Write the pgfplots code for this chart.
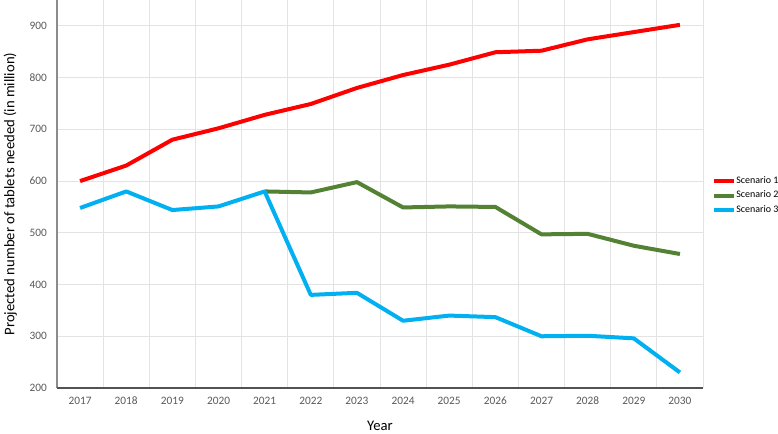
\documentclass[border=0pt]{standalone}
\usepackage{pgfplots}
\pgfplotsset{compat=1.18}
\usepackage{fontspec}
\setmainfont{Carlito}
\definecolor{sred}{HTML}{FF0000}
\definecolor{sgreen}{HTML}{548235}
\definecolor{sblue}{HTML}{00B0F0}
\definecolor{gridc}{HTML}{E3E3E3}
\definecolor{tickc}{HTML}{595959}
\begin{document}
\begin{tikzpicture}
\useasboundingbox (0pt,0pt) rectangle (583.5pt,324.75pt);
\begin{axis}[
  at={(42.75pt,33.75pt)}, anchor=south west,
  scale only axis, width=484.5pt, height=291pt,
  xmin=2016.5, xmax=2030.5, ymin=200, ymax=950,
  xtick={2017.5,2018.5,2019.5,2020.5,2021.5,2022.5,2023.5,2024.5,2025.5,2026.5,2027.5,2028.5,2029.5,2030.5},
  xticklabels={2017,2018,2019,2020,2021,2022,2023,2024,2025,2026,2027,2028,2029,2030},
  xticklabel style={xshift=-17.3pt, yshift=-3pt},
  ytick={200,300,400,500,600,700,800,900},
  xmajorgrids=true, ymajorgrids=true,
  major grid style={draw=gridc, line width=0.75pt},
  axis line style={draw=none},
  tick style={draw=none},
  major tick length=0pt, minor tick length=0pt,
  ticklabel style={font=\fontsize{8.5}{10}\selectfont, text=tickc},
  /pgf/number format/assume math mode=true,
  yticklabel style={xshift=-4pt},
  xlabel={Year}, ylabel={Projected number of tablets needed (in million)},
  label style={font=\fontsize{11}{13}\selectfont},
  xlabel style={at={(axis description cs:0.5,0)}, anchor=center, yshift=-28.5pt},
  ylabel style={at={(axis description cs:0,0.5)}, anchor=center, yshift=35pt},
  legend style={draw=none, fill=none, at={(axis description cs:1.013,0.526)}, anchor=north west,
    font=\fontsize{7.5}{9}\selectfont, row sep=2.5pt, inner sep=0pt, yshift=7pt,
    nodes={inner xsep=0.5pt, inner ysep=1pt}},
  legend cell align=left,
  legend image code/.code={\draw[#1, line width=3pt] (0pt,0pt) -- (15pt,0pt);},
  clip=false,
  after end axis/.code={
    \draw[black!45, line width=1.1pt] (rel axis cs:0,1) -- (rel axis cs:0,0);
    \draw[black!68, line width=1.2pt] (rel axis cs:0,0) -- (rel axis cs:1,0);
  },
]
\addplot[sred, line width=3pt, line join=round] coordinates {
(2017,600) (2018,630) (2019,680) (2020,702) (2021,728) (2022,749) (2023,780)
(2024,805) (2025,825) (2026,849) (2027,852) (2028,874) (2029,888) (2030,902)};
\addlegendentry{Scenario 1}
\addplot[sgreen, line width=3pt, line join=round] coordinates {
(2021,580) (2022,578) (2023,598) (2024,549) (2025,551) (2026,550) (2027,497)
(2028,498) (2029,475) (2030,459)};
\addlegendentry{Scenario 2}
\addplot[sblue, line width=3pt, line join=round] coordinates {
(2017,548) (2018,580) (2019,544) (2020,551) (2021,580) (2022,380) (2023,384)
(2024,330) (2025,340) (2026,337) (2027,300) (2028,301) (2029,296) (2030,230)};
\addlegendentry{Scenario 3}
\end{axis}
\end{tikzpicture}
\end{document}
